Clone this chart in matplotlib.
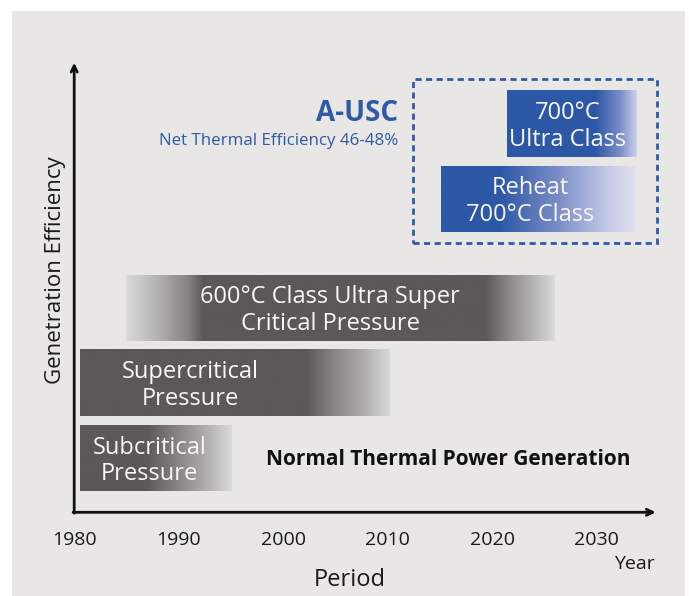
import numpy as np
import matplotlib
matplotlib.use("Agg")
import matplotlib.pyplot as plt
from matplotlib.patches import Rectangle
from matplotlib.colors import to_rgb

plt.rcParams['font.family'] = ['Open Sans', 'DejaVu Sans']

# ---------------- data ----------------
tick_years = [1980, 1990, 2000, 2010, 2020, 2030]

tech_names = ["Subcritical\nPressure",
              "Supercritical\nPressure",
              "600°C Class Ultra Super\nCritical Pressure",
              "Reheat\n700°C Class",
              "700°C\nUltra Class"]
tech_level = [0.72, 1.73, 2.73, 4.18, 5.18]        # relative generation efficiency level
tech_start = [1980.6, 1980.6, 1985.0, 2015.1, 2021.4]
tech_end = [1995.1, 2010.2, 2026.0, 2033.7, 2033.8]
label_year = [1987.2, 1991.1, 2004.5, 2023.6, 2027.25]

ausc_box_years = [2012.4, 2035.75]
ausc_box_levels = [3.587, 5.773]

# ---------------- style ----------------
BG = "#e8e7e5"
GRAY = "#5d5758"
BLUE = "#2c58a6"
TXTBLUE = "#2f5aa8"
BAR_H = 0.88
TXT_DY = -0.035

W, H = 689, 596
fig = plt.figure(figsize=(W / 100, H / 100), dpi=100)
fig.patch.set_facecolor("white")

bgax = fig.add_axes([0, 0, 1, 1], zorder=-5)
bgax.axis("off")
bgax.set_xlim(0, W)
bgax.set_ylim(H, 0)
bgax.add_patch(Rectangle((12, 11), 685 - 12, H - 11, facecolor=BG, edgecolor="none"))

ax = fig.add_axes([0, 0, 1, 1], zorder=1)
ax.patch.set_alpha(0)
ax.axis("off")
px_per_year = 10.45
x0_year = 1980 - 74.2 / px_per_year


def grad_bar(x0, x1, yc, stops):
    """stops: list of (fraction 0..1 along bar, color)"""
    n = 400
    t = np.linspace(0, 1, n)
    fr = [s[0] for s in stops]
    cols = np.array([to_rgb(s[1]) for s in stops])
    img = np.stack([np.interp(t, fr, cols[:, k]) for k in range(3)], axis=-1)
    img = img[np.newaxis, :, :]
    ax.imshow(img, extent=[x0, x1, yc - BAR_H / 2, yc + BAR_H / 2],
              aspect="auto", interpolation="bilinear", zorder=2)


for i, name in enumerate(tech_names):
    s, e, y = tech_start[i], tech_end[i], tech_level[i]
    if i == 0:
        stops = [(0, GRAY), (0.44, GRAY), (0.62, "#847e80"), (0.8, "#a9a6a7"), (1, "#dadada")]
    elif i == 1:
        stops = [(0, GRAY), (0.73, GRAY), (0.82, "#898385"), (0.92, "#b1aeaf"), (1, "#d9d9d9")]
    elif i == 2:
        stops = [(0, "#dadadb"), (0.07, "#b5b3b4"), (0.14, "#8a8586"), (0.18, GRAY),
                 (0.84, GRAY), (0.89, "#8a8586"), (0.95, "#b5b3b4"), (1, "#dadadb")]
    elif i == 3:
        stops = [(0, BLUE), (0.3, BLUE), (0.6, "#7b8dc7"), (0.85, "#c3c8e6"), (1, "#e2e3ee")]
    else:
        stops = [(0, BLUE), (0.68, BLUE), (0.87, "#7a8cc6"), (1, "#cdd2ec")]
    grad_bar(s, e, y, stops)
    ax.text(label_year[i], y + TXT_DY, name, ha="center", va="center", color="#f7f7f7",
            fontsize=17, linespacing=1.15, zorder=3)

# A-USC dashed box
bx0, bx1 = ausc_box_years
by0, by1 = ausc_box_levels
ax.add_patch(Rectangle((bx0, by0), bx1 - bx0, by1 - by0, fill=False,
                       edgecolor=TXTBLUE, lw=2.0, linestyle=(0, (2.2, 1.6)), zorder=4))

ax.text(2010.95, 5.32, "A-USC", ha="right", va="center", color=TXTBLUE,
        fontsize=20, fontweight="bold")
ax.text(2011.05, 4.95, "Net Thermal Efficiency 46-48%", ha="right", va="center",
        color=TXTBLUE, fontsize=12.2)
ax.text(2015.8, 0.71, "Normal Thermal Power Generation", ha="center", va="center",
        color="#111111", fontsize=15, fontweight="bold")

# axes arrows
arrow_kw = dict(arrowstyle="->,head_length=0.45,head_width=0.22", lw=2.0, color="#111111",
                shrinkA=0, shrinkB=0)
ax.annotate("", xy=(1980, 5.995), xytext=(1980, -0.012), arrowprops=arrow_kw, zorder=5)
ax.annotate("", xy=(2035.65, 0), xytext=(1980 - 0.1, 0), arrowprops=arrow_kw, zorder=5)

for yr in tick_years:
    ax.text(yr, (512.3 - 540) / 75, str(yr), ha="center", va="center",
            fontsize=14, color="#1a1a1a")

ax.set_xlim(x0_year, x0_year + W / px_per_year)
ax.set_ylim((512.3 - 596) / 75, 512.3 / 75)

fig.text(634.5 / W, 1 - 564 / H, "Year", ha="center", va="center", fontsize=14, color="#1a1a1a")
fig.text(350 / W, 1 - 579.5 / H, "Period", ha="center", va="center", fontsize=17, color="#1a1a1a")
fig.text(55 / W, 1 - 270 / H, "Genetration Efficiency", ha="center", va="center",
         rotation=90, fontsize=16, color="#1a1a1a")

fig.savefig("out.png", dpi=100, facecolor="white")
